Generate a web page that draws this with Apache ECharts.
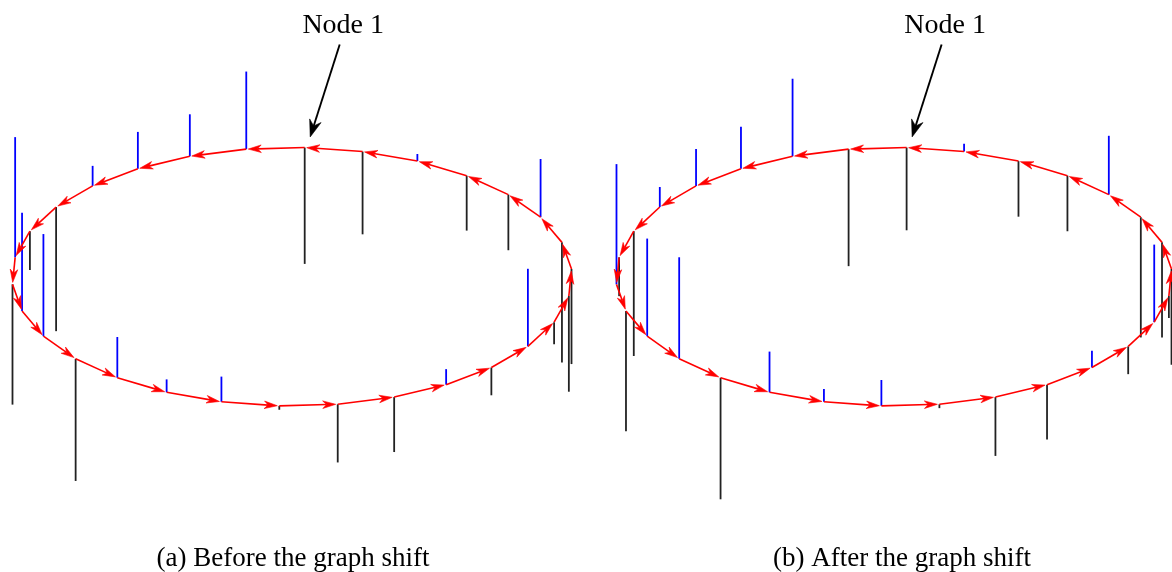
<!DOCTYPE html>
<html>
<head>
<meta charset="utf-8">
<script src="https://cdn.jsdelivr.net/npm/echarts@6/dist/echarts.min.js"></script>
<style>
  html, body { margin: 0; padding: 0; background: #ffffff; }
  #chart { width: 1172px; height: 572px; }
</style>
</head>
<body>
<div id="chart"></div>
<script>
// Directed ring graph with 30 nodes; the signal value at each node is a stem
// (blue upwards for positive values, black downwards for negative ones).
const nodeCount = 30;

// Signal on nodes 1..30 before the shift
const signalBefore = [
  -0.90, 0.60, 0.325, 0.285, 0.155, -0.96, -0.30, 0.93, -0.93, 0.76,
  0.79, -0.945, 0.315, 0.10, 0.195, -0.03, -0.45, -0.425, 0.12, -0.215,
  0.60, -0.17, -0.74, -0.735, -0.93, 0.45, -0.43, -0.425, 0.055, -0.64
];

// Signal on nodes 1..30 after the shift
const signalAfter = [
  -0.64, -0.905, 0.60, 0.325, 0.285, 0.155, -0.965, -0.30, 0.93, -0.93,
  0.755, 0.785, -0.94, 0.315, 0.10, 0.20, -0.03, -0.455, -0.425, 0.13,
  -0.215, 0.60, -0.17, -0.74, -0.735, -0.93, 0.455, -0.43, -0.43, 0.06
];

const captions = ['(a) Before the graph shift', '(b) After the graph shift'];
const pointerLabel = 'Node 1';

// Ring layout: node 1 sits near the top, numbering runs counter-clockwise
const startAngle = 87.4 * Math.PI / 180;
function ringPosition(i) {
  const t = startAngle + 2 * Math.PI * i / nodeCount;
  return [Math.cos(t), Math.sin(t)];
}

const STEM_POS = '#0000ff';
const STEM_NEG = '#222222';
const EDGE = '#ff0000';

// Arrow made of a shaft and a stealth-style head whose tip stops short of p1 by `gap`
function arrowShapes(p0, p1, opt) {
  const dx = p1[0] - p0[0], dy = p1[1] - p0[1];
  const len = Math.sqrt(dx * dx + dy * dy) || 1;
  const ux = dx / len, uy = dy / len, nx = -uy, ny = ux;
  const tip = [p1[0] - ux * opt.gap, p1[1] - uy * opt.gap];
  const back = [tip[0] - ux * opt.len, tip[1] - uy * opt.len];
  const notch = [tip[0] - ux * (opt.len - opt.notch), tip[1] - uy * (opt.len - opt.notch)];
  return [
    { type: 'line', shape: { x1: p0[0], y1: p0[1], x2: notch[0], y2: notch[1] },
      style: { stroke: opt.color, lineWidth: opt.width, fill: null } },
    { type: 'polygon', shape: { points: [
        tip,
        [back[0] + nx * opt.half, back[1] + ny * opt.half],
        notch,
        [back[0] - nx * opt.half, back[1] - ny * opt.half]
      ] },
      style: { fill: opt.color, stroke: opt.color, lineWidth: 0.6 } }
  ];
}

const grids = [], xAxes = [], yAxes = [], series = [], graphics = [];

[signalBefore, signalAfter].forEach((signal, p) => {
  grids.push({ left: 12 + 604 * p, top: 18.1, width: 560, height: 517.2 });
  xAxes.push({ type: 'value', gridIndex: p, min: -1, max: 1, show: false });
  yAxes.push({ type: 'value', gridIndex: p, min: -2, max: 2, show: false });

  const stemData = signal.map((v, i) => {
    const pos = ringPosition(i);
    return [pos[0], pos[1], v];
  });
  const edgeData = signal.map((v, i) => {
    const a = ringPosition(i), b = ringPosition((i + 1) % nodeCount);
    return [a[0], a[1], b[0], b[1]];
  });

  // stems
  series.push({
    type: 'custom', xAxisIndex: p, yAxisIndex: p, clip: false, z: 2,
    data: stemData,
    renderItem: function (params, api) {
      const x = api.value(0), y = api.value(1), v = api.value(2);
      const base = api.coord([x, y]);
      const top = api.coord([x, y + v]);
      return {
        type: 'line',
        shape: { x1: base[0], y1: base[1], x2: top[0], y2: top[1] },
        style: { stroke: v >= 0 ? STEM_POS : STEM_NEG, lineWidth: 1.8 }
      };
    }
  });

  // directed ring edges
  series.push({
    type: 'custom', xAxisIndex: p, yAxisIndex: p, clip: false, z: 3,
    data: edgeData,
    renderItem: function (params, api) {
      const p0 = api.coord([api.value(0), api.value(1)]);
      const p1 = api.coord([api.value(2), api.value(3)]);
      return {
        type: 'group',
        children: arrowShapes(p0, p1, { gap: 2, len: 13, half: 3.8, notch: 3.8, color: EDGE, width: 1.6 })
      };
    }
  });

  // pointer to node 1
  series.push({
    type: 'custom', xAxisIndex: p, yAxisIndex: p, clip: false, z: 4,
    data: [stemData[0]],
    renderItem: function (params, api) {
      const n = api.coord([api.value(0), api.value(1)]);
      const tail = [n[0] + 35, n[1] - 103];
      const tip = [n[0] + 5.5, n[1] - 10.6];
      const children = arrowShapes(tail, tip, { gap: 0, len: 17, half: 6, notch: 5.5, color: '#000000', width: 1.9 });
      children.push({
        type: 'text',
        style: {
          text: pointerLabel, x: n[0] + 38.5, y: n[1] - 121.5,
          font: '28px "Liberation Serif", serif', fill: '#000000',
          textAlign: 'center', textVerticalAlign: 'middle'
        }
      });
      return { type: 'group', children: children };
    }
  });

  graphics.push({
    type: 'text',
    x: 293 + 609 * p, y: 559,
    style: {
      text: captions[p], font: '27px "Liberation Serif", serif', fill: '#000000',
      textAlign: 'center', textVerticalAlign: 'middle'
    }
  });
});

const chart = echarts.init(document.getElementById('chart'), null, { renderer: 'canvas' });
chart.setOption({
  animation: false,
  backgroundColor: '#ffffff',
  grid: grids,
  xAxis: xAxes,
  yAxis: yAxes,
  series: series,
  graphic: graphics
});
</script>
</body>
</html>
